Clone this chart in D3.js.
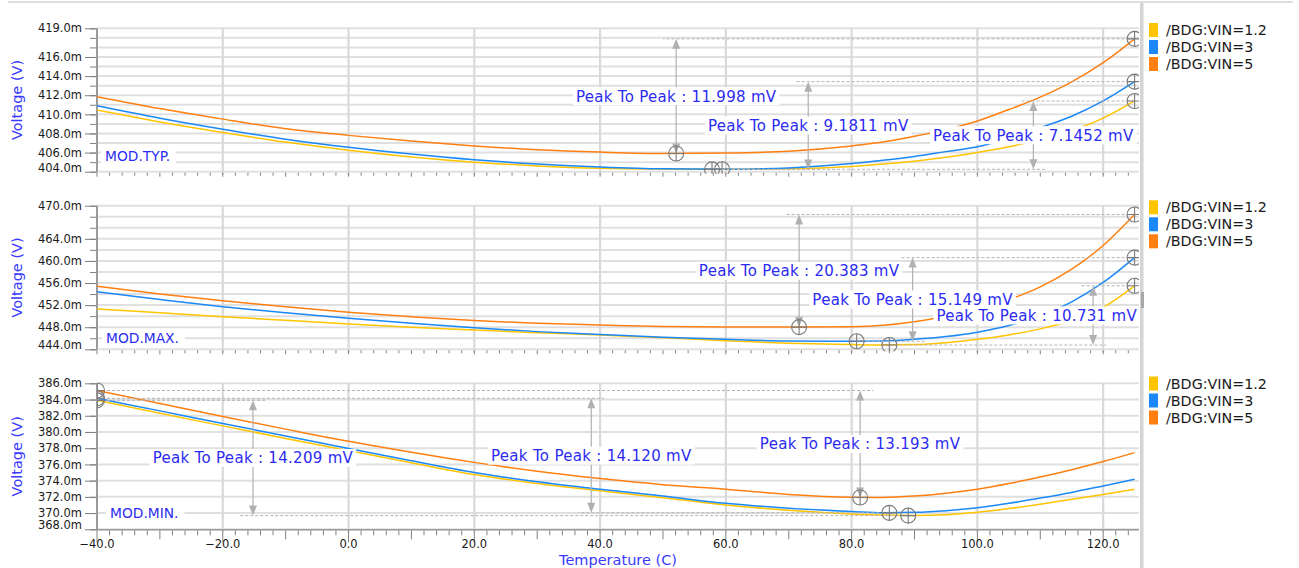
<!DOCTYPE html>
<html>
<head>
<meta charset="utf-8">
<script src="https://cdn.jsdelivr.net/npm/d3@7"></script>
<style>
  body { margin: 0; background: #fff; }
  svg { display: block; font-family: "DejaVu Sans", sans-serif; }
</style>
</head>
<body>
<svg id="chart" width="1299" height="568"></svg>
<script>
// Sweep temperatures (C)
const temps = [-40, -30, -20, -10, 0, 10, 20, 30, 40, 50, 60, 70, 80, 85, 90, 95, 100, 105, 110, 115, 120, 125];

const seriesNames = ["/BDG:VIN=1.2", "/BDG:VIN=3", "/BDG:VIN=5"];
const seriesColors = ["#ffc400", "#1a88f8", "#ff7f10"];

// Corner MOD.TYP. (mV)
const typVin12 = [410.45, 409.2, 408.1, 407.1, 406.25, 405.55, 405.0, 404.6, 404.35, 404.27, 404.25, 404.3, 404.55, 404.8, 405.1, 405.5, 406.0, 406.6, 407.4, 408.3, 409.6, 411.4];
const typVin3  = [410.9, 409.6, 408.45, 407.4, 406.55, 405.85, 405.25, 404.8, 404.5, 404.3, 404.25, 404.4, 404.85, 405.2, 405.6, 406.1, 406.6, 407.5, 408.6, 409.8, 411.4, 413.42];
const typVin5  = [411.85, 410.6, 409.5, 408.5, 407.8, 407.2, 406.7, 406.3, 406.05, 405.9, 405.95, 406.15, 406.7, 407.1, 407.7, 408.4, 409.3, 410.5, 411.8, 413.4, 415.4, 417.9];
const typMinTemp = [59.4, 57.8, 52.1];
const typMinVolt = [404.25, 404.24, 405.9];
const typMaxTemp = [125, 125, 125];
const typPeakToPeak = [7.1452, 9.1811, 11.998];
const typArrowTemp = [108.9, 73.1, 52.1];
const typTicks = [404, 405, 406, 407, 408, 409, 410, 411, 412, 413, 414, 415, 416, 417, 418, 419];
const typTickLabels = [404, 406, 408, 410, 412, 414, 416, 419];

// Corner MOD.MAX. (mV)
const maxVin12 = [451.3, 450.6, 449.9, 449.25, 448.6, 448.0, 447.5, 447.0, 446.6, 446.1, 445.55, 445.1, 444.85, 444.77, 444.85, 445.2, 445.8, 446.6, 447.7, 449.2, 451.6, 455.5];
const maxVin3  = [454.4, 453.0, 451.7, 450.6, 449.6, 448.7, 447.9, 447.2, 446.7, 446.2, 445.8, 445.5, 445.45, 445.5, 445.8, 446.3, 447.1, 448.3, 450.1, 452.6, 456.1, 460.6];
const maxVin5  = [455.4, 454.0, 452.8, 451.7, 450.7, 449.9, 449.2, 448.7, 448.4, 448.15, 448.05, 448.02, 448.1, 448.35, 449.0, 450.0, 451.3, 453.0, 455.3, 458.5, 462.8, 468.4];
const maxMinTemp = [86, 80.8, 71.65];
const maxMinVolt = [444.77, 445.45, 448.02];
const maxMaxTemp = [125, 125, 125];
const maxPeakToPeak = [10.731, 15.149, 20.383];
const maxArrowTemp = [118.4, 89.7, 71.65];
const maxTicks = [444, 446, 448, 450, 452, 454, 456, 458, 460, 462, 464, 466, 468, 470];
const maxTickLabels = [444, 448, 452, 456, 460, 464, 470];

// Corner MOD.MIN. (mV)
const minVin12 = [383.9, 382.3, 380.75, 379.2, 377.7, 376.2, 374.75, 373.65, 372.75, 371.9, 371.0, 370.35, 369.9, 369.75, 369.7, 369.8, 370.1, 370.55, 371.1, 371.7, 372.3, 372.95];
const minVin3  = [384.15, 382.6, 381.05, 379.5, 377.95, 376.45, 375.0, 373.85, 372.95, 372.1, 371.2, 370.6, 370.2, 370.05, 370.1, 370.3, 370.65, 371.2, 371.85, 372.55, 373.35, 374.17];
const minVin5  = [385.11, 383.5, 381.9, 380.35, 378.85, 377.5, 376.25, 375.15, 374.25, 373.5, 372.95, 372.3, 371.95, 371.92, 372.1, 372.45, 372.95, 373.65, 374.45, 375.35, 376.35, 377.45];
const minMinTemp = [89, 86, 81.35];
const minMinVolt = [369.69, 370.03, 371.92];
const minMaxTemp = [-40, -40, -40];
const minPeakToPeak = [14.209, 14.120, 13.193];
const minArrowTemp = [-15.2, 38.6, 81.35];
const minTicks = [368, 370, 372, 374, 376, 378, 380, 382, 384, 386];
const minTickLabels = [368, 370, 372, 374, 376, 378, 380, 382, 384, 386];

const xTickValues = [-40, -20, 0, 20, 40, 60, 80, 100, 120];
const xMinorStep = 2;

// ---- layout ----
const plotLeft = 97, plotRight = 1139;
const panels = [
  { mode: "MOD.TYP.", top: 28.3, bottom: 171.7, domain: [404, 419], series: [typVin12, typVin3, typVin5],
    minT: typMinTemp, minV: typMinVolt, maxT: typMaxTemp, p2p: typPeakToPeak, arrowT: typArrowTemp,
    ticks: typTicks, labels: typTickLabels, modeX: 105, modeDy: 15.7, legendY: 30 },
  { mode: "MOD.MAX.", top: 205.7, bottom: 349.3, domain: [444, 470], series: [maxVin12, maxVin3, maxVin5],
    minT: maxMinTemp, minV: maxMinVolt, maxT: maxMaxTemp, p2p: maxPeakToPeak, arrowT: maxArrowTemp,
    ticks: maxTicks, labels: maxTickLabels, modeX: 106, modeDy: 11.6, legendY: 207.3 },
  { mode: "MOD.MIN.", top: 383.3, bottom: 529.3, domain: [368, 386], series: [minVin12, minVin3, minVin5],
    minT: minMinTemp, minV: minMinVolt, maxT: minMaxTemp, p2p: minPeakToPeak, arrowT: minArrowTemp,
    ticks: minTicks, labels: minTickLabels, modeX: 110, modeDy: 16.3, legendY: 383.5, xLabels: true }
];

const svg = d3.select("#chart");
const x = d3.scaleLinear().domain([-40, 125.7]).range([plotLeft, plotRight]);
const fmtTick = d3.format(".1f");
const fmtP2P = d3.format(".5r");
const textBlue = "#2b2bf2";
const gridColor = "#e0e0e0";

// frame: top rule and right separator
svg.append("line").attr("x1", 8).attr("x2", 1293).attr("y1", 2).attr("y2", 2)
  .attr("stroke", "#dedede").attr("stroke-width", 2);
svg.append("rect").attr("x", 1140).attr("y", 3).attr("width", 3.5).attr("height", 565).attr("fill", "#d4d4d4");
svg.append("rect").attr("x", 1141).attr("y", 292).attr("width", 3).attr("height", 16).attr("fill", "#a8a8a8");

const defs = svg.append("defs");

panels.forEach((p, pi) => {
  const y = d3.scaleLinear().domain(p.domain).range([p.bottom, p.top]);
  const g = svg.append("g");

  const clipId = "clip" + pi;
  defs.append("clipPath").attr("id", clipId).append("rect")
    .attr("x", plotLeft).attr("y", p.top - 14).attr("width", plotRight - plotLeft).attr("height", p.bottom - p.top + 16);

  // horizontal grid
  g.append("g").selectAll("line").data(p.ticks).join("line")
    .attr("x1", plotLeft).attr("x2", plotRight)
    .attr("y1", d => y(d)).attr("y2", d => y(d))
    .attr("stroke", gridColor).attr("stroke-width", 2);

  // vertical grid
  g.append("g").selectAll("line").data(xTickValues.filter(t => t > -40)).join("line")
    .attr("x1", d => x(d)).attr("x2", d => x(d))
    .attr("y1", p.top).attr("y2", p.bottom + 3)
    .attr("stroke", "#d9d9d9").attr("stroke-width", 2.2);

  // y axis: minor then labelled ticks
  const yMinor = g.append("g").attr("transform", `translate(${plotLeft},0)`)
    .call(d3.axisLeft(y).tickValues(p.ticks).tickSize(7).tickFormat(""));
  const yMajor = g.append("g").attr("transform", `translate(${plotLeft},0)`)
    .call(d3.axisLeft(y).tickValues(p.labels).tickSize(12).tickPadding(3).tickFormat(d => fmtTick(d) + "m"));
  [yMinor, yMajor].forEach(a => {
    a.select(".domain").remove();
    a.selectAll(".tick line").attr("stroke", "#808080");
  });
  yMajor.selectAll(".tick text").attr("font-family", "DejaVu Sans").attr("font-size", 11.5).attr("fill", "#1a1a1a")
    .attr("dy", d => d === p.domain[0] ? "-0.05em" : "0.32em");
  g.append("line").attr("x1", plotLeft).attr("x2", plotLeft).attr("y1", p.top).attr("y2", p.bottom)
    .attr("stroke", "#9a9a9a").attr("stroke-width", 2);

  // x ticks under the panel
  const minorT = d3.range(-40, 126, xMinorStep);
  const xg = g.append("g");
  xg.selectAll("line").data(minorT).join("line")
    .attr("x1", d => x(d)).attr("x2", d => x(d))
    .attr("y1", p.bottom + 1)
    .attr("y2", d => p.bottom + 1 + (p.xLabels ? (d % 20 === 0 ? 12 : d % 10 === 0 ? 9 : 5) : (d % 10 === 0 ? 4 : 3)))
    .attr("stroke", "#808080").attr("stroke-width", 1);
  if (p.xLabels) {
    g.append("line").attr("x1", plotLeft).attr("x2", plotRight).attr("y1", p.bottom + 0.5).attr("y2", p.bottom + 0.5)
      .attr("stroke", "#9a9a9a").attr("stroke-width", 1.5);
    g.append("g").selectAll("text").data(xTickValues).join("text")
      .attr("x", d => x(d)).attr("y", 547.5).attr("text-anchor", "middle")
      .attr("font-size", 11.5).attr("fill", "#1a1a1a").text(d => fmtTick(d));
  }

  // curves
  const line = d3.line().x((d, i) => x(temps[i])).y(d => y(d)).curve(d3.curveMonotoneX);
  const plot = g.append("g").attr("clip-path", `url(#${clipId})`);
  p.series.forEach((vals, si) => {
    plot.append("path").datum(vals).attr("d", line)
      .attr("fill", "none").attr("stroke", seriesColors[si]).attr("stroke-width", 1.5);
  });

  // peak-to-peak annotations
  const labelLayer = g.append("g");
  p.series.forEach((vals, si) => {
    const maxV = p.minV[si] + p.p2p[si];
    const ax = x(p.arrowT[si]);
    const yTop = y(maxV), yBot = y(p.minV[si]);
    const xMaxPt = x(p.maxT[si]), xMinPt = x(p.minT[si]);
    const dashed = (x0, yy) => {
      if (Math.abs(ax - x0) < 1) return;
      const x1 = ax + 13 * Math.sign(ax - x0);
      plot.append("line").attr("x1", x0).attr("x2", x1).attr("y1", yy).attr("y2", yy)
        .attr("stroke", "#b4b4b4").attr("stroke-width", 1).attr("stroke-dasharray", "3,2");
    };
    dashed(xMaxPt, yTop);
    dashed(xMinPt, yBot);
    plot.append("line").attr("x1", ax).attr("x2", ax).attr("y1", yTop + 4).attr("y2", yBot - 4)
      .attr("stroke", "#b0b0b0").attr("stroke-width", 1.2);
    plot.append("path").attr("d", `M${ax},${yTop} L${ax - 4},${yTop + 10} L${ax + 4},${yTop + 10} Z`).attr("fill", "#b0b0b0");
    plot.append("path").attr("d", `M${ax},${yBot} L${ax - 4},${yBot - 10} L${ax + 4},${yBot - 10} Z`).attr("fill", "#b0b0b0");

    [[xMinPt, yBot], [xMaxPt, yTop]].forEach(([mx, my]) => {
      const m = plot.append("g").attr("transform", `translate(${mx},${my})`)
        .attr("stroke", "#7a7a7a").attr("stroke-width", 1.1).attr("fill", "none");
      m.append("circle").attr("r", 7.5);
      m.append("line").attr("x1", -7.5).attr("x2", 7.5);
      m.append("line").attr("y1", -7.5).attr("y2", 7.5);
    });

    const lg = labelLayer.append("g");
    const bg = lg.append("rect").attr("fill", "#fff");
    const t = lg.append("text").attr("font-size", 15).attr("letter-spacing", 0.3).attr("fill", textBlue)
      .attr("text-anchor", "middle").attr("dy", "0.36em")
      .text(`Peak To Peak : ${fmtP2P(p.p2p[si])} mV`);
    const w = t.node().getComputedTextLength();
    const cx = Math.max(plotLeft + w / 2 + 4, Math.min(plotRight - w / 2 - 2, ax));
    const cy = (yTop + yBot) / 2;
    t.attr("x", cx).attr("y", cy);
    bg.attr("x", cx - w / 2 - 3).attr("y", cy - 9).attr("width", w + 6).attr("height", 18);
  });

  // corner name
  const mg = g.append("g");
  const mbg = mg.append("rect").attr("fill", "#fff");
  const mt = mg.append("text").attr("x", p.modeX).attr("y", p.bottom - p.modeDy).attr("dy", "0.36em")
    .attr("font-size", 13.8).attr("fill", textBlue).text(p.mode);
  const mw = mt.node().getComputedTextLength();
  mbg.attr("x", p.modeX - 4).attr("y", p.bottom - p.modeDy - 9).attr("width", mw + 10).attr("height", 18);

  // y title
  g.append("text").attr("transform", `translate(22,${(p.top + p.bottom) / 2}) rotate(-90)`)
    .attr("text-anchor", "middle").attr("font-size", 14.5).attr("fill", "#3a3aff").text("Voltage (V)");

  // legend
  const leg = g.append("g");
  seriesNames.forEach((name, si) => {
    const cy = p.legendY + si * 17;
    leg.append("rect").attr("x", 1149).attr("y", cy - 7).attr("width", 9).attr("height", 14).attr("fill", seriesColors[si]);
    leg.append("text").attr("x", 1166).attr("y", cy).attr("dy", "0.36em").attr("font-size", 14.3)
      .attr("fill", "#1a1a1a").text(name);
  });
});

// x title
svg.append("text").attr("x", (plotLeft + plotRight) / 2).attr("y", 564.5).attr("text-anchor", "middle")
  .attr("font-size", 14.5).attr("fill", "#3a3aff").text("Temperature (C)");
</script>
</body>
</html>
